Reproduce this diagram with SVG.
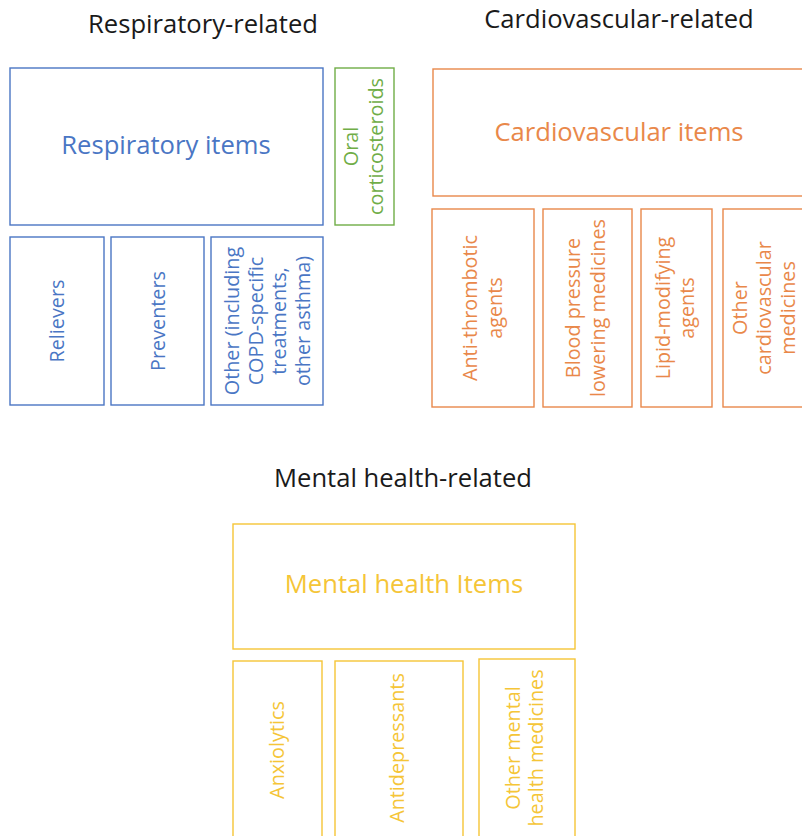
<svg xmlns="http://www.w3.org/2000/svg" width="802" height="836" viewBox="0 0 802 836">
<style>
  text { font-family: "Open Sans", "Liberation Sans", sans-serif; text-anchor: middle; }
  .title { font-size: 25.6px; fill: #1a1a1a; }
  .big { font-size: 25.6px; }
  .lbl { font-size: 19.8px; }
  rect { fill: #ffffff; stroke-width: 1.4; }
  .resp rect { stroke: #4A76C4; } .resp text { fill: #4A76C4; }
  .ocs rect { stroke: #70AD47; } .ocs text { fill: #70AD47; }
  .cardio rect { stroke: #E9884A; } .cardio text { fill: #E9884A; }
  .mental rect { stroke: #F5C537; } .mental text { fill: #F5C537; }
</style>
<rect x="0" y="0" width="802" height="836" style="fill:#ffffff;stroke:none"/>

<g id="titles">
  <text class="title" x="203" y="33">Respiratory-related</text>
  <text class="title" x="619" y="28">Cardiovascular-related</text>
  <text class="title" x="403" y="487">Mental health-related</text>
</g>

<g id="respiratory-items" class="resp">
  <rect x="10" y="68" width="313" height="157"/>
  <text class="big" x="166" y="154">Respiratory items</text>
</g>
<g id="oral-corticosteroids" class="ocs">
  <rect x="335" y="68" width="59" height="157"/>
  <text class="lbl" transform="translate(363,146.5) rotate(-90)"><tspan x="0" y="-5.5">Oral</tspan><tspan x="0" y="19.5">corticosteroids</tspan></text>
</g>
<g id="relievers" class="resp">
  <rect x="10" y="237" width="94" height="168"/>
  <text class="lbl" transform="translate(57,321) rotate(-90)"><tspan x="0" y="7">Relievers</tspan></text>
</g>
<g id="preventers" class="resp">
  <rect x="111" y="237" width="93" height="168"/>
  <text class="lbl" transform="translate(157.5,321) rotate(-90)"><tspan x="0" y="7">Preventers</tspan></text>
</g>
<g id="other-respiratory" class="resp">
  <rect x="211" y="237" width="112" height="168"/>
  <text class="lbl" transform="translate(267,321) rotate(-90)"><tspan x="0" y="-28">Other (including</tspan><tspan x="0" y="-4.5">COPD-specific</tspan><tspan x="0" y="19">treatments,</tspan><tspan x="0" y="42.5">other asthma)</tspan></text>
</g>

<g id="cardiovascular-items" class="cardio">
  <rect x="433" y="69" width="380" height="127"/>
  <text class="big" x="619" y="141">Cardiovascular items</text>
</g>
<g id="anti-thrombotic" class="cardio">
  <rect x="432" y="209" width="102" height="198"/>
  <text class="lbl" transform="translate(482.5,308) rotate(-90)"><tspan x="0" y="-5.5">Anti-thrombotic</tspan><tspan x="0" y="19">agents</tspan></text>
</g>
<g id="blood-pressure" class="cardio">
  <rect x="543" y="209" width="89" height="198"/>
  <text class="lbl" transform="translate(585.5,308) rotate(-90)"><tspan x="0" y="-5.5">Blood pressure</tspan><tspan x="0" y="19">lowering medicines</tspan></text>
</g>
<g id="lipid-modifying" class="cardio">
  <rect x="641" y="209" width="71" height="198"/>
  <text class="lbl" transform="translate(675,308) rotate(-90)"><tspan x="0" y="-5">Lipid-modifying</tspan><tspan x="0" y="19">agents</tspan></text>
</g>
<g id="other-cardiovascular" class="cardio">
  <rect x="723" y="209" width="90" height="198"/>
  <text class="lbl" transform="translate(764,308) rotate(-90)"><tspan x="0" y="-17">Other</tspan><tspan x="0" y="7">cardiovascular</tspan><tspan x="0" y="31">medicines</tspan></text>
</g>

<g id="mental-health-items" class="mental">
  <rect x="233" y="524" width="342" height="125"/>
  <text class="big" x="404" y="593">Mental health Items</text>
</g>
<g id="anxiolytics" class="mental">
  <rect x="233" y="661" width="89" height="190"/>
  <text class="lbl" transform="translate(277,750) rotate(-90)"><tspan x="0" y="7">Anxiolytics</tspan></text>
</g>
<g id="antidepressants" class="mental">
  <rect x="335" y="661" width="128" height="190"/>
  <text class="lbl" transform="translate(397,748) rotate(-90)"><tspan x="0" y="7">Antidepressants</tspan></text>
</g>
<g id="other-mental" class="mental">
  <rect x="479" y="659" width="96" height="192"/>
  <text class="lbl" transform="translate(524.5,748) rotate(-90)"><tspan x="0" y="-4.5">Other mental</tspan><tspan x="0" y="18.5">health medicines</tspan></text>
</g>

<g id="connectors"></g>
</svg>
